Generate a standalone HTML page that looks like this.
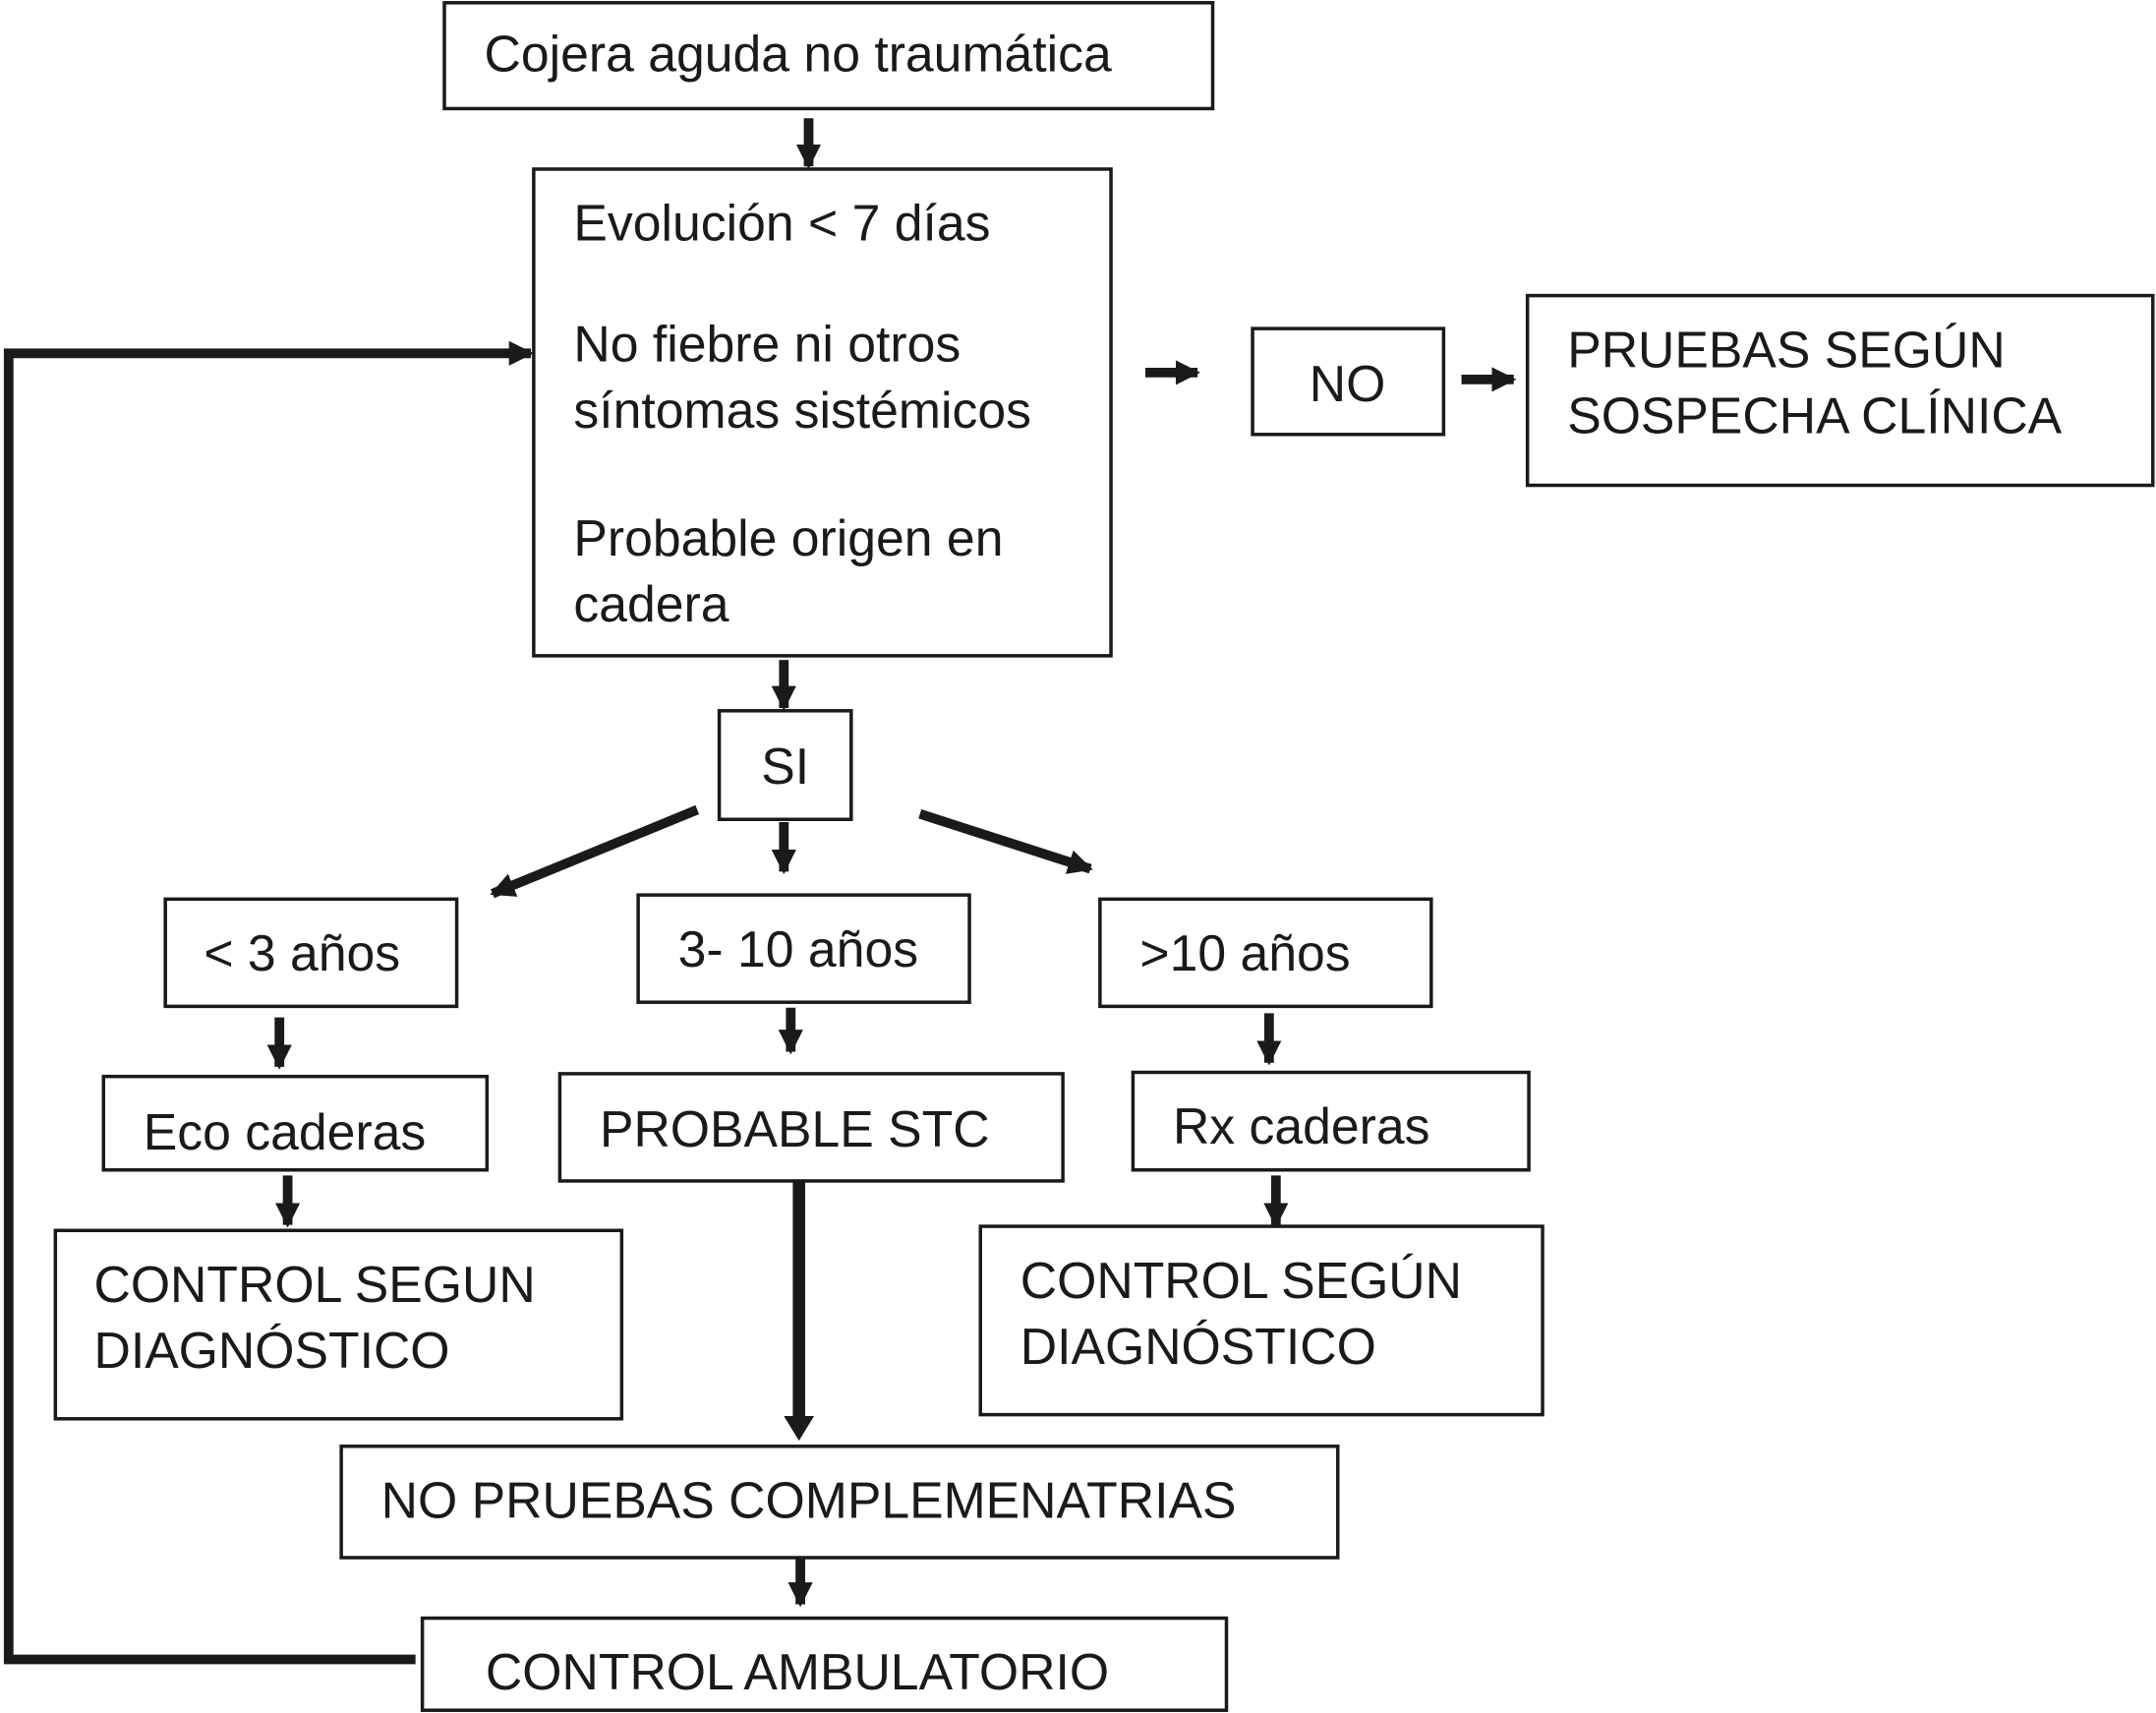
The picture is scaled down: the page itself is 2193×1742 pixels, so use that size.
<!DOCTYPE html>
<html><head><meta charset="utf-8"><style>
html,body{margin:0;padding:0;background:#fff;}
svg{display:block;}
text{font-family:"Liberation Sans",sans-serif;font-size:37px;fill:#1a1a1a;}
</style></head><body>
<svg width="2193" height="1742" viewBox="0 0 1568 1246" xmlns="http://www.w3.org/2000/svg">
<defs>
<marker id="a" markerUnits="userSpaceOnUse" markerWidth="20" markerHeight="20" refX="16" refY="9" orient="auto">
<polygon points="0,0 18,9 0,18" fill="#1a1a1a"/></marker>
</defs>
<g fill="none" stroke="#1a1a1a" stroke-width="2.5">
<rect x="323" y="2" width="559" height="77"/>
<rect x="388" y="123" width="420" height="354"/>
<rect x="911" y="239" width="139" height="77"/>
<rect x="1111" y="215" width="455" height="138"/>
<rect x="523" y="517" width="96" height="79"/>
<rect x="120" y="654" width="212" height="78"/>
<rect x="464" y="651" width="241" height="78"/>
<rect x="800" y="654" width="241" height="78"/>
<rect x="75" y="783" width="279" height="68"/>
<rect x="407" y="781" width="366" height="78"/>
<rect x="824" y="780" width="288" height="71"/>
<rect x="40" y="895" width="412" height="137"/>
<rect x="713" y="892" width="409" height="137"/>
<rect x="248" y="1052" width="725" height="81"/>
<rect x="307" y="1177" width="585" height="67"/>
</g>
<g stroke="#1a1a1a" stroke-width="7" fill="none" marker-end="url(#a)">
<line x1="588" y1="86" x2="588" y2="121"/>
<line x1="570" y1="480" x2="570" y2="515"/>
<line x1="570" y1="598" x2="570" y2="634"/>
<line x1="203" y1="740" x2="203" y2="776"/>
<line x1="575" y1="733" x2="575" y2="765"/>
<line x1="923" y1="737" x2="923" y2="773"/>
<line x1="209" y1="855" x2="209" y2="891"/>
<line x1="928" y1="855" x2="928" y2="891"/>
<line x1="582" y1="1132" x2="582" y2="1167"/>
<line x1="833" y1="271" x2="871" y2="271"/>
<line x1="1063" y1="276" x2="1101" y2="276"/>
<line x1="507" y1="589" x2="358" y2="650"/>
<line x1="669" y1="592" x2="793" y2="632"/>
<polyline points="302,1207 6,1207 6,257 386,257"/>
</g>
<line x1="581" y1="859" x2="581" y2="1040" stroke="#1a1a1a" stroke-width="9"/>
<polygon points="570,1030 592,1030 581,1048" fill="#1a1a1a"/>
<text x="352" y="52">Cojera aguda no traumática</text>
<text x="417" y="175">Evolución &lt; 7 días</text>
<text x="417" y="263">No fiebre ni otros</text>
<text x="417" y="311">síntomas sistémicos</text>
<text x="417" y="404">Probable origen en</text>
<text x="417" y="452">cadera</text>
<text x="980" y="292" text-anchor="middle">NO</text>
<text x="1140" y="267">PRUEBAS SEGÚN</text>
<text x="1140" y="315">SOSPECHA CLÍNICA</text>
<text x="571" y="570" text-anchor="middle">SI</text>
<text x="148" y="706">&lt; 3 años</text>
<text x="493" y="703">3- 10 años</text>
<text x="829" y="706">&gt;10 años</text>
<text x="104" y="836">Eco caderas</text>
<text x="436" y="834">PROBABLE STC</text>
<text x="853" y="832">Rx caderas</text>
<text x="68" y="947">CONTROL SEGUN</text>
<text x="68" y="995">DIAGNÓSTICO</text>
<text x="742" y="944">CONTROL SEGÚN</text>
<text x="742" y="992">DIAGNÓSTICO</text>
<text x="277" y="1104">NO PRUEBAS COMPLEMENATRIAS</text>
<text x="353" y="1229">CONTROL AMBULATORIO</text>
</svg>
</body></html>
